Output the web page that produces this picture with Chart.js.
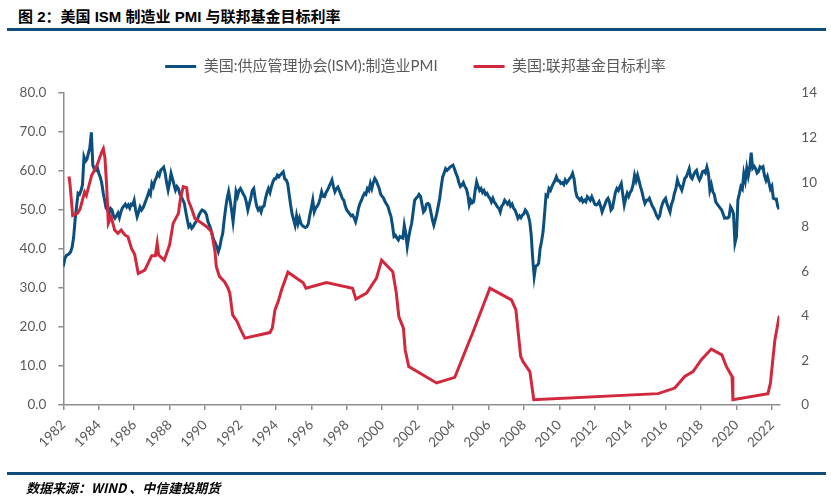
<!DOCTYPE html>
<html>
<head>
<meta charset="utf-8">
<script src="https://cdn.jsdelivr.net/npm/chart.js@4"></script>
<style>
  body { margin: 0; background: #fff; width: 831px; height: 497px; position: relative; overflow: hidden; }
  #chart { position: absolute; left: 0; top: 0; }
  .title { position: absolute; left: 18px; top: 5px; font: bold 15px "Liberation Sans", "Noto Sans CJK SC", sans-serif; color: #000; }
  .rule { position: absolute; left: 7px; width: 819px; height: 3px; background: #0f4c7b; }
  .source { position: absolute; left: 26px; top: 478px; font: italic bold 13px "Noto Sans CJK SC", sans-serif; color: #000; white-space: pre; }
</style>
</head>
<body>
<div class="title">图 2：美国 ISM 制造业 PMI 与联邦基金目标利率</div>
<div class="rule" style="top:28px"></div>
<canvas id="chart" width="831" height="497"></canvas>
<div class="rule" style="top:472px"></div>
<div class="source">数据来源：WIND 、中信建投期货</div>
<script>
// ISM 制造业 PMI，月度，按图中横轴位置从 1982 开始
var pmiStart = 1982;
var pmiValues = [
  35.5, 37.5, 38.3, 38.5, 38.8, 39.3, 40.5, 43.0, 47.5, 51.0, 54.3, 54.0,
  55.0, 56.5, 63.6, 62.5, 63.0, 64.5, 66.0, 69.9, 61.5, 60.5, 60.2, 61.0,
  59.5, 58.5, 57.0, 54.5, 52.5, 50.5, 50.0, 49.0, 50.4, 50.0, 48.5, 47.9,
  48.5, 49.2, 48.0, 49.5, 50.5, 51.0, 51.5, 50.8, 51.3, 50.5, 51.5, 51.3,
  52.5, 50.0, 48.3, 49.5, 50.8, 50.0, 50.5, 51.5, 52.5, 53.5, 54.7, 54.0,
  56.8, 56.0, 57.5, 58.2, 59.4, 58.8, 60.2, 60.6, 61.0, 59.5, 57.0, 55.1,
  57.0, 59.4, 58.0, 56.5, 55.1, 56.0, 55.5, 54.0, 53.4, 52.5, 51.7, 49.5,
  47.5, 45.7, 46.2, 45.3, 45.8, 46.5, 47.0, 47.8, 48.8, 49.5, 50.0, 49.8,
  49.5, 48.8, 47.0, 46.1, 45.0, 43.5, 42.3, 41.5, 40.5, 39.3, 40.5, 42.5,
  44.0, 47.5, 50.5, 53.0, 54.7, 52.5, 50.0, 47.0, 50.5, 54.7, 53.5, 55.0,
  55.5, 54.8, 54.0, 53.4, 52.0, 50.0, 51.5, 53.0, 55.0, 55.5, 53.0, 51.0,
  50.0, 50.5, 49.5, 50.8, 51.0, 53.0, 54.5, 55.5, 54.5, 56.0, 57.2, 58.0,
  58.0, 58.9, 58.5, 59.0, 59.4, 59.8, 58.0, 57.7, 56.8, 54.0, 51.3, 49.0,
  47.5, 46.1, 48.5, 46.5, 47.9, 46.5, 46.0, 45.7, 45.5, 45.7, 46.5, 48.7,
  50.5, 52.5, 49.5, 50.5, 51.0, 51.7, 53.0, 54.7, 53.5, 53.4, 54.5, 55.1,
  56.0, 56.8, 57.7, 56.0, 54.7, 55.5, 55.9, 55.0, 54.0, 53.0, 52.5, 51.0,
  50.0, 49.5, 49.0, 48.5, 48.7, 48.0, 47.0, 48.5, 50.5, 51.7, 52.5, 53.5,
  54.3, 54.0, 55.5, 55.0, 56.8, 55.5, 57.0, 58.1, 57.5, 56.5, 55.5, 54.0,
  53.5, 53.0, 52.1, 51.5, 50.8, 49.5, 48.3, 46.0, 43.2, 43.5, 42.8, 42.3,
  43.2, 43.0, 42.8, 46.1, 44.0, 40.6, 43.0, 45.0, 46.6, 49.5, 52.5, 53.0,
  53.4, 54.0, 53.5, 51.5, 49.5, 50.0, 51.5, 51.7, 51.3, 49.5, 47.5, 46.1,
  47.5, 49.1, 51.0, 53.0, 56.0, 58.5, 59.5, 60.6, 60.2, 60.6, 61.0, 61.3,
  61.5, 60.5, 59.4, 58.5, 57.0, 56.0, 56.4, 57.0, 56.0, 55.5, 54.0, 51.3,
  52.5, 51.8, 52.1, 55.0, 57.2, 56.0, 55.0, 55.5, 54.5, 55.0, 54.0, 54.3,
  53.5, 53.0, 52.1, 53.0, 52.0, 51.5, 50.8, 50.5, 49.5, 51.0, 51.5, 52.5,
  52.0, 51.5, 52.1, 51.0, 51.5, 50.5, 50.0, 49.0, 47.9, 48.5, 48.0, 48.7,
  49.0, 50.0, 49.5, 48.5, 47.0, 43.5, 37.5, 33.0, 35.6, 35.8, 36.3, 40.1,
  42.0, 44.4, 48.9, 53.8, 53.5, 55.5, 55.0, 56.0, 56.8, 57.5, 58.5, 57.5,
  57.5, 56.8, 57.0, 56.5, 57.7, 57.0, 57.5, 58.1, 58.5, 59.4, 58.0, 55.0,
  53.4, 53.0, 52.5, 53.0, 52.1, 52.5, 52.1, 53.4, 53.0, 52.5, 53.4, 52.5,
  51.5, 51.3, 51.5, 52.1, 51.0, 49.5, 50.5, 51.5, 52.5, 53.0, 52.0, 50.0,
  50.5, 52.5, 54.5, 55.5, 55.0, 56.0, 56.8, 54.0, 51.3, 53.0, 54.3, 53.5,
  54.5, 55.1, 56.5, 58.9, 57.5, 58.9, 57.5, 56.0, 54.7, 53.0, 51.7, 52.5,
  52.5, 53.0, 52.0, 51.0, 50.4, 49.5, 48.5, 47.9, 48.5, 50.5, 51.7, 52.5,
  53.0, 51.5, 50.5, 49.5, 51.5, 52.5, 54.3, 55.5, 57.7, 56.5, 56.0, 55.1,
  56.5, 58.1, 58.5, 59.5, 60.6, 58.5, 58.0, 59.0, 59.8, 60.2, 58.5, 57.7,
  58.5, 59.8, 60.0, 59.5, 61.0, 59.5, 55.1, 56.5, 54.7, 54.0, 52.1, 51.5,
  51.0, 50.5, 50.0, 49.0, 47.9, 48.0, 47.9, 48.2, 50.8, 50.1, 49.1, 41.5,
  43.1, 52.6, 54.2, 56.0, 55.4, 59.3, 57.5, 60.7, 58.7, 60.8, 64.7, 60.7,
  61.2, 60.6, 59.5, 59.9, 61.1, 60.8, 61.1, 58.8, 57.6, 58.6, 57.1, 55.4,
  56.1, 53.0, 52.8, 52.8, 50.9, 50.2
];

// 联邦基金目标利率：变动日期（横轴位置）与数值
var rateDates = [
  1982.32, 1982.38, 1982.53, 1982.8, 1982.95, 1983.2, 1983.3, 1983.6, 1983.9, 1984.17,
  1984.26, 1984.35, 1984.45, 1984.54, 1984.7, 1984.9, 1985.08, 1985.27, 1985.47, 1985.65,
  1985.85, 1986.03, 1986.23, 1986.6, 1986.99, 1987.2, 1987.3, 1987.38, 1987.7, 1988.0,
  1988.2, 1988.5, 1988.6, 1988.77, 1988.96, 1989.05, 1989.24, 1989.43, 1989.7, 1990.1,
  1990.37, 1990.56, 1990.64, 1990.82, 1991.1, 1991.3, 1991.4, 1991.56, 1991.82, 1991.97,
  1992.25, 1993.66, 1993.8, 1993.95, 1994.13, 1994.32, 1994.68, 1995.54, 1995.7, 1996.86,
  1998.33, 1998.52, 1999.12, 1999.68, 1999.97, 2000.6, 2000.8, 2000.94, 2001.2, 2001.3,
  2001.5, 2003.07, 2004.1, 2005.14, 2006.08, 2007.3, 2007.55, 2007.82, 2007.95, 2008.34,
  2008.56, 2015.58, 2016.52, 2017.08, 2017.55, 2018.02, 2018.58, 2019.18, 2019.43, 2019.75,
  2019.8, 2021.78, 2021.92, 2022.17, 2022.42
];
var rateValues = [
  10.25, 9.9, 8.5, 8.6, 8.8, 9.55, 9.4, 10.3, 10.75, 11.35,
  11.5, 11.1, 9.8, 8.15, 8.45, 7.85, 7.7, 7.85, 7.63, 7.55,
  7.03, 6.75, 5.9, 6.05, 6.7, 6.7, 7.25, 6.73, 6.5, 7.18,
  8.15, 8.6, 9.2, 9.8, 9.75, 9.2, 8.82, 8.37, 8.22, 8.0,
  7.77, 6.9, 6.2, 5.76, 5.53, 5.24, 5.02, 4.04, 3.74, 3.45,
  3.0, 3.25, 3.45, 4.27, 4.64, 5.16, 5.96, 5.49, 5.24, 5.49,
  5.24, 4.75, 5.02, 5.69, 6.5, 5.98, 5.02, 3.97, 3.45, 2.48,
  1.73, 0.99, 1.24, 3.3, 5.24, 4.72, 4.27, 2.18, 1.95, 1.5,
  0.24, 0.51, 0.76, 1.28, 1.5, 2.03, 2.51, 2.25, 1.73, 1.28,
  0.24, 0.51, 0.99, 2.92, 4.0
];

var seriesNames = ["美国:供应管理协会(ISM):制造业PMI", "美国:联邦基金目标利率"];

var pmiPoints = pmiValues.map(function (v, i) { return { x: pmiStart + i / 12, y: v }; });
var ratePoints = rateDates.map(function (d, i) { return { x: d, y: rateValues[i] }; });

var axisColor = "#8e8e8e";
var textColor = "#595959";
var tickFont = { family: "Lato, 'Noto Sans CJK SC'", size: 13.5 };

new Chart(document.getElementById("chart"), {
  type: "line",
  data: {
    datasets: [
      {
        label: seriesNames[0],
        data: pmiPoints,
        yAxisID: "y",
        borderColor: "#0b4f7e",
        backgroundColor: "#0b4f7e",
        borderWidth: 3,
        pointRadius: 0,
        order: 1
      },
      {
        label: seriesNames[1],
        data: ratePoints,
        yAxisID: "y1",
        borderColor: "#d2283d",
        backgroundColor: "#d2283d",
        borderWidth: 3,
        pointRadius: 0,
        order: 0
      }
    ]
  },
  options: {
    responsive: false,
    animation: false,
    layout: { padding: { top: 23, left: 0, right: 0, bottom: 0 } },
    plugins: {
      tooltip: { enabled: false },
      legend: {
        position: "top",
        labels: {
          usePointStyle: true,
          pointStyle: "line",
          pointStyleWidth: 31,
          padding: 36,
          color: textColor,
          font: { family: "Lato, 'Noto Sans CJK SC'", size: 15 },
          sort: function (a, b) { return a.datasetIndex - b.datasetIndex; }
        }
      },
      // 空白标题，只用来在图例和绘图区之间留出间距
      title: {
        display: true,
        text: "",
        position: "top",
        weight: 10,
        padding: 0,
        font: { size: 9, lineHeight: 1 }
      }
    },
    scales: {
      x: {
        type: "linear",
        min: 1982,
        max: 2022.42,
        grid: { drawOnChartArea: false, drawTicks: true, tickLength: 5, color: axisColor, lineWidth: 1.5 },
        border: { color: axisColor, width: 1.5 },
        ticks: {
          stepSize: 2,
          includeBounds: false,
          autoSkip: false,
          minRotation: 45,
          maxRotation: 45,
          padding: 7,
          color: textColor,
          font: tickFont,
          callback: function (v) { return String(v); }
        },
        afterFit: function (s) { s.height = 92; }
      },
      y: {
        position: "left",
        min: 0,
        max: 80,
        grid: { drawOnChartArea: false, drawTicks: true, tickLength: 5, color: axisColor, lineWidth: 1.5 },
        border: { color: axisColor, width: 1.5 },
        ticks: {
          stepSize: 10,
          padding: 12,
          color: textColor,
          font: tickFont,
          callback: function (v) { return v.toFixed(1); }
        },
        afterFit: function (s) { s.width = 63.3; }
      },
      y1: {
        position: "right",
        min: 0,
        max: 14,
        grid: { display: false },
        border: { display: false },
        ticks: {
          stepSize: 2,
          padding: 14,
          color: textColor,
          font: tickFont
        },
        afterFit: function (s) { s.width = 51.7; }
      }
    }
  }
});
</script>
</body>
</html>
